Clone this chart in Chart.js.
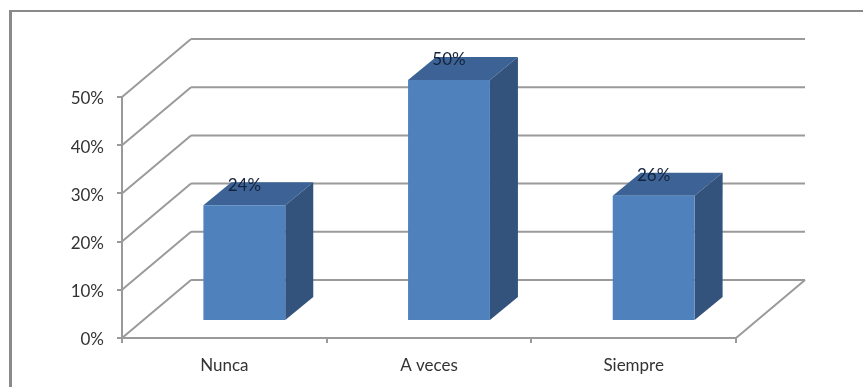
<!DOCTYPE html>
<html>
<head>
<meta charset="utf-8">
<style>
  html, body { margin: 0; padding: 0; background: #fff; }
  #wrap { position: relative; width: 863px; height: 387px; overflow: hidden; }
  #frame { position: absolute; left: 9px; top: 10px; right: 0; bottom: 0; border-left: 3px solid #8a8a8a; border-top: 2px solid #8a8a8a; }
</style>
<script src="https://cdn.jsdelivr.net/npm/chart.js@4/dist/chart.umd.min.js"></script>
</head>
<body>
<div id="wrap">
  <div id="frame"></div>
  <canvas id="chart" width="863" height="387" style="position:absolute;left:0;top:0"></canvas>
</div>
<script>
const categories = ['Nunca', 'A veces', 'Siempre'];
const values = [24, 50, 26];
const tickValues = [0, 10, 20, 30, 40, 50];

const FONT = 'Lato, "Open Sans", sans-serif';
const GRID = '#9a9a9a';
// fake perspective offsets
const WALL_DX = 69, WALL_DY = -58;
const BAR_DX = 20, BAR_DY = -17;
const SIDE_DX = 28, SIDE_DY = -23;

function line(ctx, x1, y1, x2, y2) {
  ctx.beginPath();
  ctx.moveTo(x1, y1);
  ctx.lineTo(x2, y2);
  ctx.stroke();
}

// back wall and floor
const wallPlugin = {
  id: 'wall',
  beforeDatasetsDraw(chart) {
    const { ctx, scales: { x, y } } = chart;
    ctx.save();
    ctx.strokeStyle = GRID;
    ctx.lineWidth = 2;
    tickValues.forEach((v) => {
      const py = y.getPixelForValue(v);
      line(ctx, x.left, py, x.left + WALL_DX, py + WALL_DY);
      line(ctx, x.left + WALL_DX, py + WALL_DY, x.right + WALL_DX, py + WALL_DY);
    });
    const py0 = y.getPixelForValue(0);
    line(ctx, x.right, py0, x.right + WALL_DX, py0 + WALL_DY);
    ctx.restore();
  },
};

// top and side faces of each bar, the front face is the normal bar element
const box3dPlugin = {
  id: 'box3d',
  beforeDatasetDraw(chart, args) {
    const { ctx } = chart;
    const bars = chart.getDatasetMeta(args.index).data;
    ctx.save();
    ctx.translate(BAR_DX, BAR_DY);
    bars.forEach((bar) => {
      const l = bar.x - bar.width / 2, r = bar.x + bar.width / 2;
      ctx.fillStyle = '#3d6396';
      ctx.beginPath();
      ctx.moveTo(l, bar.y);
      ctx.lineTo(l + SIDE_DX, bar.y + SIDE_DY);
      ctx.lineTo(r + SIDE_DX, bar.y + SIDE_DY);
      ctx.lineTo(r, bar.y);
      ctx.closePath();
      ctx.fill();
      ctx.fillStyle = '#33527c';
      ctx.beginPath();
      ctx.moveTo(r, bar.y);
      ctx.lineTo(r + SIDE_DX, bar.y + SIDE_DY);
      ctx.lineTo(r + SIDE_DX, bar.base + SIDE_DY);
      ctx.lineTo(r, bar.base);
      ctx.closePath();
      ctx.fill();
    });
  },
  afterDatasetDraw(chart) {
    chart.ctx.restore();
  },
};

const valueLabelPlugin = {
  id: 'valueLabels',
  afterDatasetsDraw(chart) {
    const { ctx } = chart;
    ctx.save();
    ctx.font = '17px ' + FONT;
    ctx.fillStyle = '#14233c';
    ctx.textAlign = 'center';
    ctx.textBaseline = 'middle';
    chart.getDatasetMeta(0).data.forEach((bar, i) => {
      ctx.fillText(values[i] + '%', bar.x + BAR_DX, bar.y + BAR_DY - 20);
    });
    ctx.restore();
  },
};

// y tick labels sit a little below their tick marks
const yLabelPlugin = {
  id: 'yLabels',
  afterDraw(chart) {
    const { ctx, scales: { y } } = chart;
    ctx.save();
    ctx.font = '17px ' + FONT;
    ctx.fillStyle = '#333';
    ctx.textAlign = 'right';
    ctx.textBaseline = 'middle';
    y.ticks.forEach((tick) => {
      ctx.fillText(tick.value + '%', y.right - 18, y.getPixelForValue(tick.value) + 2);
    });
    ctx.restore();
  },
};

new Chart(document.getElementById('chart'), {
  type: 'bar',
  data: {
    labels: categories,
    datasets: [{
      data: values,
      backgroundColor: '#4f81bd',
      barPercentage: 0.4,
      categoryPercentage: 1,
      clip: false,
    }],
  },
  options: {
    responsive: false,
    animation: false,
    layout: { padding: { left: 62, right: 127, top: 97, bottom: 12 } },
    plugins: { legend: { display: false }, tooltip: { enabled: false } },
    scales: {
      x: {
        afterFit(scale) { scale.height = 37; },
        grid: { drawOnChartArea: false, color: GRID, tickLength: 5, tickWidth: 2, lineWidth: 2 },
        border: { color: GRID, width: 2 },
        ticks: { color: '#333', font: { family: FONT, size: 17 }, padding: 12 },
      },
      y: {
        min: 0,
        max: 50,
        afterFit(scale) { scale.width = 60; },
        afterBuildTicks(scale) { scale.ticks = tickValues.map((value) => ({ value })); },
        grid: { drawOnChartArea: false, color: GRID, tickLength: 5, tickWidth: 2, lineWidth: 2 },
        border: { color: GRID, width: 2 },
        ticks: { display: false },
      },
    },
  },
  plugins: [wallPlugin, box3dPlugin, valueLabelPlugin, yLabelPlugin],
});
</script>
</body>
</html>
